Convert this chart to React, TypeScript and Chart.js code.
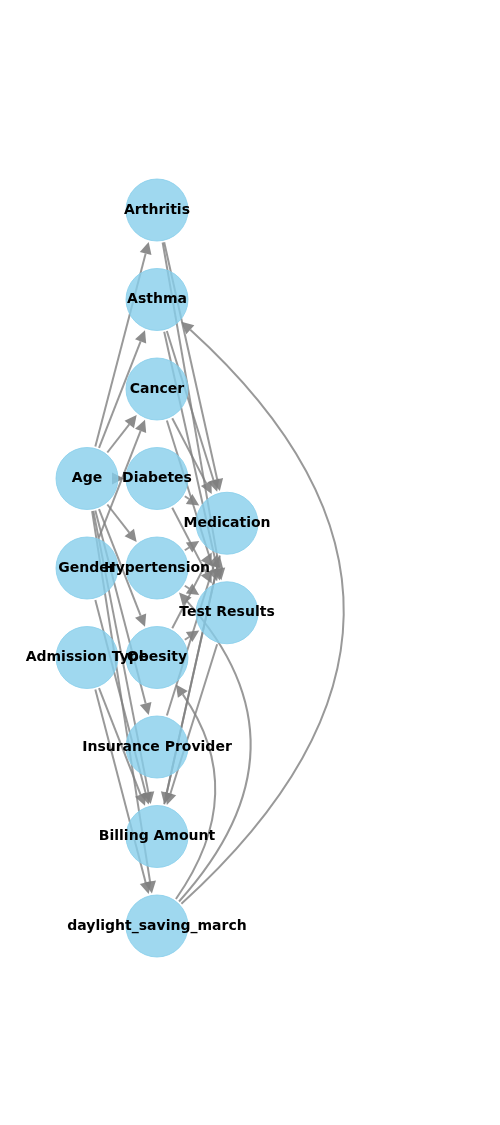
import { useEffect, useRef } from "react"
import { Chart, registerables } from "chart.js"

Chart.register(...registerables)

// node names, column (layer) and row
const nodeNames = [
  "Arthritis", "Asthma", "Cancer", "Age", "Diabetes", "Medication", "Gender",
  "Hypertension", "Test Results", "Admission Type", "Obesity",
  "Insurance Provider", "Billing Amount", "daylight_saving_march",
]
const nodeCols = [1, 1, 1, 0, 1, 2, 0, 1, 2, 0, 1, 1, 1, 1]
const nodeRows = [0, 1, 2, 3, 3, 3.5, 4, 4, 4.5, 5, 5, 6, 7, 8]

// edges: from, to, bend
const edgeFrom = [
  "Age", "Age", "Age", "Age", "Age", "Age", "Age", "Age", "Age",
  "Gender", "Gender", "Admission Type", "Admission Type",
  "Arthritis", "Arthritis", "Asthma", "Asthma", "Cancer", "Cancer",
  "Diabetes", "Diabetes", "Hypertension", "Hypertension", "Obesity", "Obesity",
  "Insurance Provider", "Billing Amount", "Test Results", "Medication",
  "daylight_saving_march", "daylight_saving_march", "daylight_saving_march",
]
const edgeTo = [
  "Arthritis", "Asthma", "Cancer", "Diabetes", "Hypertension", "Obesity", "Insurance Provider", "Billing Amount", "daylight_saving_march",
  "Cancer", "Billing Amount", "Billing Amount", "daylight_saving_march",
  "Medication", "Test Results", "Medication", "Test Results", "Medication", "Test Results",
  "Medication", "Test Results", "Medication", "Test Results", "Medication", "Test Results",
  "Medication", "Medication", "Billing Amount", "Billing Amount",
  "Asthma", "Obesity", "Hypertension",
]
const edgeBend = [
  0, 0, 0, 0, 0, 0, 0, 0, 0,
  0, 0, 0, 0,
  0, 0, 0, 0, 0, 0,
  0, 0, 0, 0, 0, 0,
  0, 0, 0, 0,
  0.55, 0.35, 0.45,
]

const PX_X = 70
const PX_Y = 89.5
const X0 = 87
const Y0 = 210
const R = 31

export default function App() {
  const ref = useRef<HTMLCanvasElement>(null)
  useEffect(() => {
    if (!ref.current) return
    const idx = (n: string) => nodeNames.indexOf(n)
    const graphPlugin = {
      id: "graph",
      beforeDatasetsDraw(chart: any) {
        const { ctx, scales } = chart
        const px = (i: number) => scales.x.getPixelForValue(nodeCols[i])
        const py = (i: number) => scales.y.getPixelForValue(nodeRows[i])
        ctx.save()
        ctx.strokeStyle = "rgba(128,128,128,0.8)"
        ctx.fillStyle = "rgba(128,128,128,0.9)"
        ctx.lineWidth = 2
        edgeFrom.forEach((f, k) => {
          const a = idx(f), b = idx(edgeTo[k])
          const x1 = px(a), y1 = py(a), x2 = px(b), y2 = py(b)
          const dx = x2 - x1, dy = y2 - y1
          const len = Math.hypot(dx, dy)
          const bend = edgeBend[k]
          const cx = (x1 + x2) / 2 - dy * bend
          const cy = (y1 + y2) / 2 + dx * bend
          let sx: number, sy: number, ex: number, ey: number, tx: number, ty: number
          if (bend === 0) {
            const ux = dx / len, uy = dy / len
            sx = x1 + ux * (R + 2); sy = y1 + uy * (R + 2)
            ex = x2 - ux * (R + 2); ey = y2 - uy * (R + 2)
            tx = ux; ty = uy
          } else {
            const d1 = Math.hypot(cx - x1, cy - y1)
            sx = x1 + (cx - x1) / d1 * (R + 2); sy = y1 + (cy - y1) / d1 * (R + 2)
            const d2 = Math.hypot(x2 - cx, y2 - cy)
            tx = (x2 - cx) / d2; ty = (y2 - cy) / d2
            ex = x2 - tx * (R + 2); ey = y2 - ty * (R + 2)
          }
          const ax = ex - tx * 12, ay = ey - ty * 12
          ctx.beginPath()
          ctx.moveTo(sx, sy)
          if (bend === 0) ctx.lineTo(ax, ay)
          else ctx.quadraticCurveTo(cx, cy, ax, ay)
          ctx.stroke()
          ctx.beginPath()
          ctx.moveTo(ex, ey)
          ctx.lineTo(ax - ty * 6, ay + tx * 6)
          ctx.lineTo(ax + ty * 6, ay - tx * 6)
          ctx.closePath()
          ctx.fill()
        })
        ctx.restore()
      },
      afterDatasetsDraw(chart: any) {
        const { ctx, scales } = chart
        ctx.save()
        ctx.font = "bold 14px 'DejaVu Sans', sans-serif"
        ctx.fillStyle = "#000"
        ctx.textAlign = "center"
        ctx.textBaseline = "middle"
        nodeNames.forEach((n, i) => {
          ctx.fillText(n, scales.x.getPixelForValue(nodeCols[i]), scales.y.getPixelForValue(nodeRows[i]))
        })
        ctx.restore()
      },
    }
    const chart = new Chart(ref.current, {
      type: "scatter",
      data: {
        datasets: [{
          data: nodeNames.map((_, i) => ({ x: nodeCols[i], y: nodeRows[i] })),
          pointRadius: R,
          pointHoverRadius: R,
          backgroundColor: "rgba(135,206,235,0.8)",
          borderColor: "rgba(135,206,235,0.8)",
        }],
      },
      options: {
        animation: false,
        responsive: false,
        layout: { padding: 0, autoPadding: false },
        plugins: { legend: { display: false }, tooltip: { enabled: false } },
        scales: {
          x: { display: false, min: -X0 / PX_X, max: (500 - X0) / PX_X },
          y: { display: false, reverse: true, min: -Y0 / PX_Y, max: (1125 - Y0) / PX_Y },
        },
      },
      plugins: [graphPlugin],
    })
    return () => chart.destroy()
  }, [])
  return (
    <div style={{ position: "absolute", left: 0, top: 0, width: 500, height: 1125, background: "#fff" }}>
      <canvas ref={ref} width={500} height={1125} />
    </div>
  )
}
